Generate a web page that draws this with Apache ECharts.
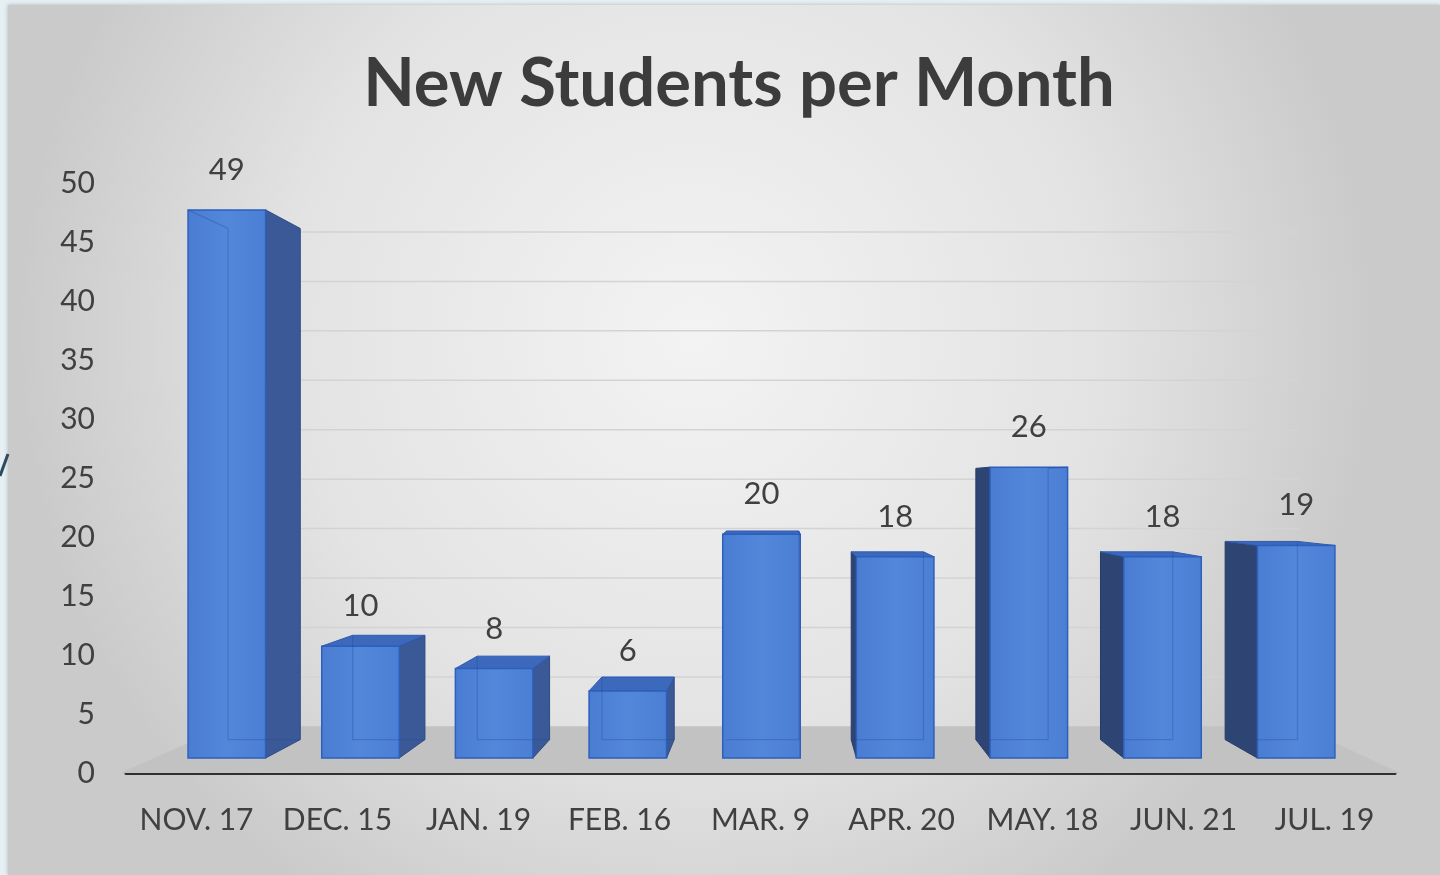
<!DOCTYPE html>
<html>
<head>
<meta charset="utf-8">
<title>New Students per Month</title>
<script src="https://cdn.jsdelivr.net/npm/echarts@6/dist/echarts.min.js"></script>
<style>
  html, body { margin: 0; padding: 0; background: #e6eff3; }
  #chart { width: 1440px; height: 875px; }
</style>
</head>
<body>
<div id="chart"></div>
<script>
var months = ['NOV. 17', 'DEC. 15', 'JAN. 19', 'FEB. 16', 'MAR. 9', 'APR. 20', 'MAY. 18', 'JUN. 21', 'JUL. 19'];
var newStudents = [49, 10, 8, 6, 20, 18, 26, 18, 19];
var yTicks = [0, 5, 10, 15, 20, 25, 30, 35, 40, 45, 50];

// fake perspective: how far toward the vanishing point each plane sits
var FRONT = 0.948, BACK = 0.884, WALL = 0.838;
var FONT = 'Lato';

var chart = echarts.init(document.getElementById('chart'));

function vanish(cs) {
  return [cs.x + 0.515 * cs.width, cs.y + 0.512 * cs.height];
}
function proj(p, vp, s) {
  return [vp[0] + s * (p[0] - vp[0]), vp[1] + s * (p[1] - vp[1])];
}

// floor + back wall grid lines
function renderBackdrop(params, api) {
  var cs = params.coordSys;
  var vp = vanish(cs);
  var x0 = cs.x - 6, x1 = cs.x + cs.width + 5;
  var yb = api.coord([0, 0])[1];
  var bl = proj([x0, yb], vp, WALL), br = proj([x1, yb], vp, WALL);
  var children = [{
    type: 'polygon',
    shape: { points: [[x0, yb], [x1, yb], br, bl] },
    style: { fill: '#c2c2c2' }
  }];
  yTicks.forEach(function (t) {
    if (t === 0) return;
    var y = api.coord([0, t])[1];
    var a = proj([x0, y], vp, WALL), b = proj([x1, y], vp, WALL);
    children.push({
      type: 'line',
      shape: { x1: a[0], y1: a[1], x2: b[0], y2: b[1] },
      style: { stroke: '#d3d3d3', lineWidth: 1.5 }
    });
  });
  return { type: 'group', children: children };
}

function renderBar(params, api) {
  var cs = params.coordSys;
  var vp = vanish(cs);
  var i = api.value(0), v = api.value(1);
  var top = api.coord([i, v]);
  var base = api.coord([i, 0]);
  var hw = api.size([1, 0])[0] * 0.29;
  // TL, TR, BR, BL
  var box = [[top[0] - hw, top[1]], [top[0] + hw, top[1]], [top[0] + hw, base[1]], [top[0] - hw, base[1]]];
  var f = box.map(function (p) { return proj(p, vp, FRONT); });
  var b = box.map(function (p) { return proj(p, vp, BACK); });
  var kids = [];
  var leftBar = f[1][0] < vp[0];

  if (leftBar) {
    kids.push({ type: 'polygon', shape: { points: [f[1], b[1], b[2], f[2]] },
      style: { fill: '#3a5996', stroke: '#2b4a86', lineWidth: 1 } });
  }
  if (f[0][0] > vp[0]) {
    kids.push({ type: 'polygon', shape: { points: [f[0], b[0], b[3], f[3]] },
      style: { fill: '#2e4573', stroke: '#263c68', lineWidth: 1 } });
  }
  if (f[0][1] > vp[1]) {
    kids.push({ type: 'polygon', shape: { points: [f[0], f[1], b[1], b[0]] },
      style: { fill: '#3d69bd', stroke: '#2d5bb3', lineWidth: 1 } });
  }
  kids.push({
    type: 'polygon',
    shape: { points: f },
    style: {
      fill: new echarts.graphic.LinearGradient(0, 0, 1, 0, [
        { offset: 0, color: '#4a7dd2' },
        { offset: 0.5, color: '#5287da' },
        { offset: 1, color: '#4b7fd4' }
      ]),
      stroke: '#2d5fbd',
      lineWidth: 1.5
    }
  });
  // see-through hidden edges, like the original
  var far = leftBar ? 0 : 1;
  var near = leftBar ? 1 : 0;
  var hidden = [b[far], b[3 - far]];
  if (f[0][1] < vp[1]) hidden.unshift(f[far]);
  kids.push({
    type: 'polyline',
    shape: { points: hidden.concat([b[3 - near]]) },
    style: { fill: 'none', stroke: 'rgba(35,70,150,0.3)', lineWidth: 1.2 }
  });
  kids.push({
    type: 'text',
    style: {
      text: String(v),
      x: (f[0][0] + f[1][0]) / 2,
      y: f[0][1] - 40,
      align: 'center',
      verticalAlign: 'middle',
      fill: '#404040',
      font: '31px ' + FONT
    }
  });
  return { type: 'group', children: kids };
}

var option = {
  backgroundColor: '#e6eff3',
  animation: false,
  title: {
    text: 'New Students per Month',
    left: 734,
    top: 46,
    textAlign: 'center',
    textStyle: { fontFamily: FONT, fontWeight: 'bold', fontSize: 67, color: '#3c3c3c' }
  },
  graphic: [
    {
      type: 'rect', left: 8, top: 5, z: -10, silent: true,
      shape: { width: 1432, height: 870 },
      style: {
        fill: new echarts.graphic.RadialGradient(0.48, 0.38, 0.78, [
          { offset: 0, color: '#f3f3f3' },
          { offset: 0.6, color: '#e3e3e3' },
          { offset: 1, color: '#cacaca' }
        ]),
        shadowBlur: 4, shadowColor: 'rgba(0,0,0,0.25)'
      }
    },
    {
      type: 'line', z: -5, silent: true,
      shape: { x1: 0, y1: 476, x2: 8, y2: 454 },
      style: { stroke: '#2e4a5e', lineWidth: 3 }
    }
  ],
  grid: { left: 126, right: 45, top: 183, bottom: 102 },
  xAxis: {
    type: 'category',
    data: months,
    axisLine: { lineStyle: { color: '#303030', width: 3 } },
    axisTick: { show: false },
    axisLabel: { interval: 0, fontFamily: FONT, fontSize: 30, color: '#404040', margin: 32 }
  },
  yAxis: {
    type: 'value',
    min: 0,
    max: 50,
    interval: 5,
    axisLine: { show: false },
    splitLine: { show: false },
    axisLabel: { fontFamily: FONT, fontSize: 30, color: '#404040', margin: 31 }
  },
  series: [
    {
      type: 'custom',
      renderItem: renderBackdrop,
      data: [[0, 0]],
      z: 1,
      silent: true
    },
    {
      type: 'custom',
      name: 'New students',
      renderItem: renderBar,
      data: newStudents.map(function (v, i) { return [i, v]; }),
      z: 3
    }
  ]
};

chart.setOption(option);
</script>
</body>
</html>
